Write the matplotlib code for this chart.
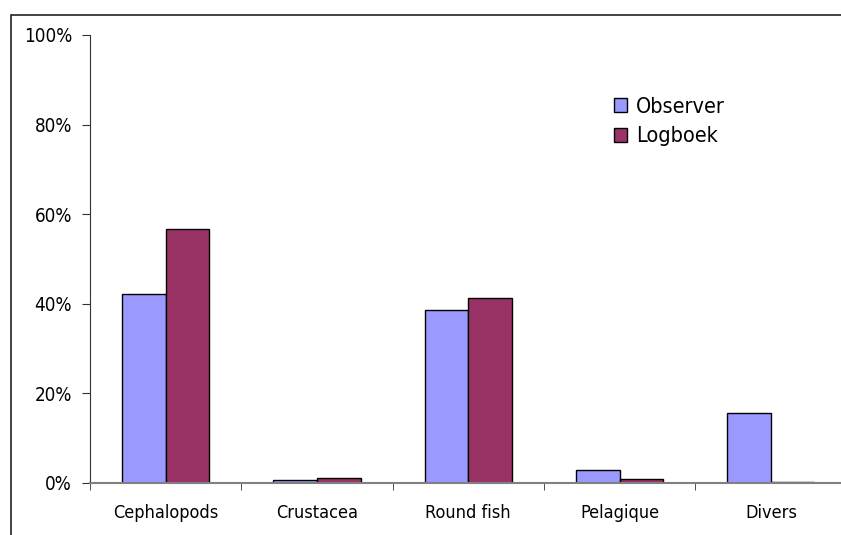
import matplotlib
matplotlib.use("Agg")
import matplotlib.pyplot as plt
from matplotlib.patches import Rectangle
import numpy as np

categories = ["Cephalopods", "Crustacea", "Round fish", "Pelagique", "Divers"]
observer = [42.2, 0.6, 38.6, 3.0, 15.6]
logboek = [56.8, 1.1, 41.3, 0.9, 0.3]
yticks = [0, 20, 40, 60, 80, 100]

plt.rcParams["font.family"] = "DejaVu Sans"

W, H = 841, 535
fig = plt.figure(figsize=(W / 100, H / 100), dpi=100)

# axes extends slightly past the right edge, as in the cropped original
x0, x1 = 90, 90 + 5 * 151.3
y0, y1 = 483, 35
ax = fig.add_axes([x0 / W, 1 - y0 / H, (x1 - x0) / W, (y0 - y1) / H])

# outer chart frame (only top and left visible)
fig.patches.append(Rectangle((11 / W, -0.1), 1.2, 1 - 15 / H + 0.1,
                             transform=fig.transFigure, fill=False,
                             edgecolor="#222222", linewidth=1.2))

x = np.arange(len(categories))
w = 0.288
ax.bar(x - w / 2, observer, w, color="#9999FF", edgecolor="black", linewidth=1.0,
       label="Observer")
ax.bar(x + w / 2, logboek, w, color="#993366", edgecolor="black", linewidth=1.0,
       label="Logboek")

ax.set_xlim(-0.5, len(categories) - 0.5)
ax.set_ylim(0, 100)
ax.set_yticks(yticks)
ax.set_yticklabels([f"{v}%" for v in yticks], fontsize=13.5, fontstretch="condensed")
ax.set_xticks(x)
ax.set_xticklabels(categories, fontsize=13, fontstretch="condensed")
ax.set_xticks(np.arange(len(categories) + 1) - 0.5, minor=True)
ax.tick_params(axis="x", which="major", length=0, pad=15)
ax.tick_params(axis="x", which="minor", length=5, direction="out", color="#333333")
ax.tick_params(axis="y", length=6, direction="out", pad=7, color="#333333")

for s in ["top", "right"]:
    ax.spines[s].set_visible(False)
ax.spines["left"].set_color("#333333")
ax.spines["bottom"].set_color("#808080")
ax.spines["bottom"].set_linewidth(1.5)

leg = ax.legend(loc="upper left", bbox_to_anchor=((605 - x0) / (x1 - x0), (483 - 88) / 448),
                frameon=False, handlelength=0.6, handleheight=0.6,
                handletextpad=0.45, labelspacing=0.45, borderaxespad=0,
                prop={"stretch": "condensed", "size": 15.5})

fig.savefig("out.png", dpi=100)
